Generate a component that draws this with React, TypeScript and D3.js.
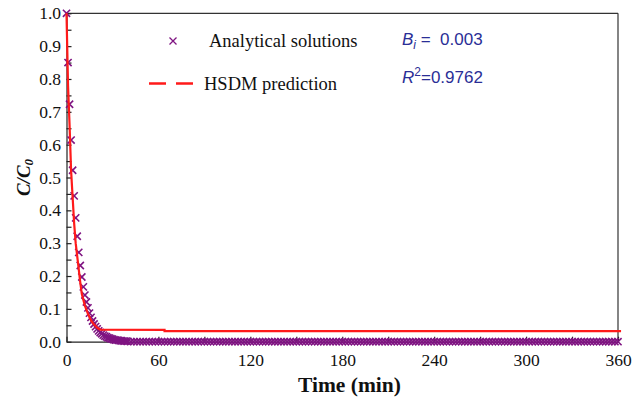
import React, { useEffect, useRef } from 'react';
import * as d3 from 'd3';

// axis ticks
const xTicks = [0, 30, 60, 90, 120, 150, 180, 210, 240, 270, 300, 330, 360];
const xLabels = [0, 60, 120, 180, 240, 300, 360];
const yTicks = [0, 0.05, 0.1, 0.15, 0.2, 0.25, 0.3, 0.35, 0.4, 0.45, 0.5, 0.55, 0.6, 0.65, 0.7, 0.75, 0.8, 0.85, 0.9, 0.95, 1.0];

// analytical solutions (x markers), early decay
const analyticalTimes = [0, 1, 2, 3, 4, 5, 6, 7, 8, 9, 10, 11, 12, 13, 14, 15, 16, 17, 18, 19, 20,
  21, 22, 23, 24, 25, 26, 27, 28, 29, 30, 31, 32, 33, 34, 35, 36, 37, 38, 39, 40];
const analyticalValues = [1.0, 0.85, 0.723, 0.614, 0.522, 0.444, 0.377, 0.321, 0.272, 0.232, 0.197,
  0.167, 0.142, 0.121, 0.103, 0.087, 0.074, 0.063, 0.054, 0.046, 0.039,
  0.033, 0.028, 0.024, 0.02, 0.017, 0.015, 0.012, 0.011, 0.009, 0.008,
  0.006, 0.005, 0.005, 0.004, 0.003, 0.003, 0.002, 0.002, 0.002, 0.001];
// analytical solutions, flat tail
const tailTimes = [42, 44, 46, 48, 50, 52, 54, 56, 58, 60, 62, 64, 66, 68, 70, 72, 74, 76, 78, 80,
  82, 84, 86, 88, 90, 92, 94, 96, 98, 100, 102, 104, 106, 108, 110, 112, 114, 116, 118, 120,
  122, 124, 126, 128, 130, 132, 134, 136, 138, 140, 142, 144, 146, 148, 150, 152, 154, 156, 158, 160,
  162, 164, 166, 168, 170, 172, 174, 176, 178, 180, 182, 184, 186, 188, 190, 192, 194, 196, 198, 200,
  202, 204, 206, 208, 210, 212, 214, 216, 218, 220, 222, 224, 226, 228, 230, 232, 234, 236, 238, 240,
  242, 244, 246, 248, 250, 252, 254, 256, 258, 260, 262, 264, 266, 268, 270, 272, 274, 276, 278, 280,
  282, 284, 286, 288, 290, 292, 294, 296, 298, 300, 302, 304, 306, 308, 310, 312, 314, 316, 318, 320,
  322, 324, 326, 328, 330, 332, 334, 336, 338, 340, 342, 344, 346, 348, 350, 352, 354, 356, 358, 360];
const tailValue = 0.0;

// HSDM prediction (red line)
const hsdmTimes = [0, 1, 2, 3, 4, 5, 6, 7, 8, 9, 10, 12, 14, 16, 18, 20, 22, 64, 64, 362];
const hsdmValues = [1.0, 0.78, 0.66, 0.52, 0.44, 0.36, 0.3, 0.26, 0.22, 0.18, 0.145, 0.11, 0.085, 0.065, 0.052, 0.043, 0.037, 0.036, 0.032, 0.032];

const SERIF = '"Liberation Serif", "Times New Roman", serif';
const SANS = '"Liberation Sans", Arial, sans-serif';
const PURPLE = '#7f1482';
const RED = '#ff1a1a';
const BLUE = '#2a2e96';

export default function App() {
  const ref = useRef<SVGSVGElement>(null);

  useEffect(() => {
    const svg = d3.select(ref.current);
    svg.selectAll('*').remove();

    const x = d3.scaleLinear().domain([0, 360]).range([66.5, 618]);
    const y = d3.scaleLinear().domain([0, 1]).range([341.7, 13.3]);

    // frame (top + right)
    svg.append('line').attr('x1', x(0)).attr('x2', x(360)).attr('y1', y(1)).attr('y2', y(1))
      .attr('stroke', '#333').attr('stroke-width', 1.2);
    svg.append('line').attr('x1', x(360)).attr('x2', x(360)).attr('y1', y(1)).attr('y2', y(0))
      .attr('stroke', '#333').attr('stroke-width', 1.2);

    // y axis
    const yAxis = svg.append('g').attr('transform', `translate(${x(0)},0)`)
      .call(d3.axisLeft(y).tickValues(yTicks).tickSizeInner(-5).tickSizeOuter(0).tickPadding(5.5)
        .tickFormat((d: any) => (Math.round(d * 100) % 10 === 0 ? d3.format('.1f')(d) : '')));
    // x axis
    const xAxis = svg.append('g').attr('transform', `translate(0,${y(0)})`)
      .call(d3.axisBottom(x).tickValues(xTicks).tickSizeInner(-5).tickSizeOuter(0).tickPadding(12)
        .tickFormat((d: any) => (xLabels.includes(d) ? String(d) : '')));
    [yAxis, xAxis].forEach(g => {
      g.selectAll('path, line').attr('stroke', '#222').attr('stroke-width', 1.2);
      g.selectAll('text').attr('font-family', SERIF).attr('font-size', 17.5).attr('fill', '#111');
    });

    // analytical markers
    const pts = analyticalTimes.map((t, i) => [t, analyticalValues[i]])
      .concat(tailTimes.map(t => [t, tailValue]));
    const s = 3.6;
    svg.append('g').selectAll('path').data(pts).enter().append('path')
      .attr('d', d => {
        const cx = x(d[0]), cy = y(d[1]);
        return `M${cx - s},${cy - s}L${cx + s},${cy + s}M${cx - s},${cy + s}L${cx + s},${cy - s}`;
      })
      .attr('stroke', PURPLE).attr('stroke-width', 1.6).attr('fill', 'none');

    // HSDM line
    const line = d3.line<number>().x(t => x(t)).y((t, i) => y(hsdmValues[i]));
    svg.append('path').attr('d', line(hsdmTimes) as string)
      .attr('fill', 'none').attr('stroke', RED).attr('stroke-width', 2.2);

    // legend
    const lg = svg.append('g');
    lg.append('path').attr('d', `M169.5,37.5L176.5,44.5M169.5,44.5L176.5,37.5`)
      .attr('stroke', PURPLE).attr('stroke-width', 1.3);
    lg.append('text').attr('x', 209).attr('y', 47).attr('font-family', SERIF).attr('font-size', 18.5)
      .attr('fill', '#111').text('Analytical solutions');
    lg.append('line').attr('x1', 149).attr('x2', 193).attr('y1', 83.5).attr('y2', 83.5)
      .attr('stroke', RED).attr('stroke-width', 2.5).attr('stroke-dasharray', '17,10');
    lg.append('text').attr('x', 204).attr('y', 90).attr('font-family', SERIF).attr('font-size', 18.5)
      .attr('fill', '#111').text('HSDM prediction');

    // annotation
    const b = svg.append('text').attr('x', 402).attr('y', 45).attr('font-family', SANS)
      .attr('font-size', 17).attr('fill', BLUE).style('white-space', 'pre');
    b.append('tspan').attr('font-style', 'italic').text('B');
    b.append('tspan').attr('font-style', 'italic').attr('font-size', 12).attr('dy', 4).text('i');
    b.append('tspan').attr('dy', -4).text(' =  0.003');
    const r = svg.append('text').attr('x', 402).attr('y', 83).attr('font-family', SANS)
      .attr('font-size', 17).attr('fill', BLUE);
    r.append('tspan').attr('font-style', 'italic').text('R');
    r.append('tspan').attr('font-size', 12).attr('dy', -7).text('2');
    r.append('tspan').attr('dy', 7).text('=0.9762');

    // axis titles
    svg.append('text').attr('x', 349.5).attr('y', 391.5).attr('text-anchor', 'middle')
      .attr('font-family', SERIF).attr('font-size', 21.5).attr('font-weight', 'bold')
      .attr('fill', '#111').text('Time (min)');
    const yt = svg.append('text').attr('transform', 'translate(30,177.5) rotate(-90)')
      .attr('text-anchor', 'middle').attr('font-family', SERIF).attr('font-size', 19)
      .attr('font-weight', 'bold').attr('font-style', 'italic').attr('fill', '#111');
    yt.append('tspan').text('C/C');
    yt.append('tspan').attr('font-size', 13).attr('dy', 3).text('0');
  }, []);

  return (
    <div style={{ position: 'absolute', left: 0, top: 0 }}>
      <svg ref={ref} width={641} height={397} style={{ display: 'block', background: '#fff' }} />
    </div>
  );
}
